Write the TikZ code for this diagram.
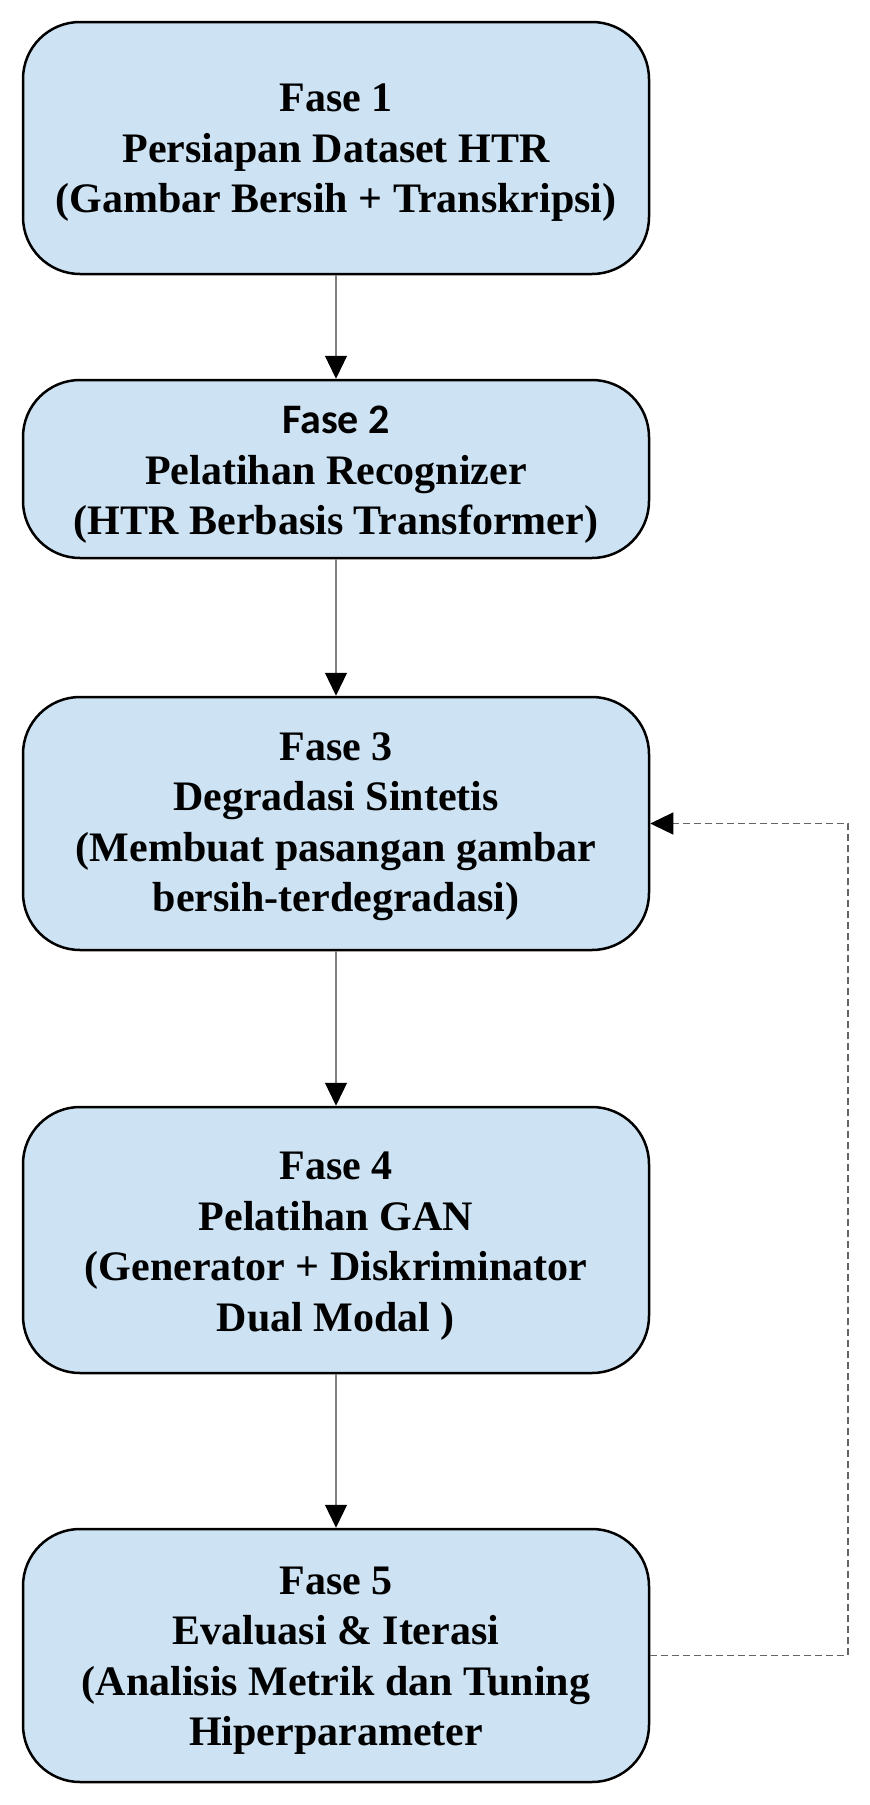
\documentclass[tikz,border=0pt]{standalone}
\usepackage{fontspec}
\setmainfont{Liberation Serif}
\newfontfamily\calibrifont{Carlito}
\usetikzlibrary{arrows.meta}
\definecolor{boxfill}{RGB}{205,226,242}
\definecolor{linegray}{RGB}{128,128,128}
\definecolor{dashgray}{RGB}{100,100,100}
\tikzset{
  phasebox/.style={draw=black, line width=2.5pt, fill=boxfill, rounded corners=57pt,
    minimum width=626pt, inner sep=0pt},
  boxtext/.style={inner sep=0pt, align=center,
    font=\fontsize{42pt}{50.5pt}\selectfont\bfseries},
  flowarrow/.style={draw=linegray, line width=1.2pt,
    -{Triangle[width=22pt,length=23pt,color=black]}},
  backarrow/.style={draw=dashgray, line width=1.3pt, dash pattern=on 7pt off 4pt,
    -{Triangle[width=22pt,length=23pt,color=black]}}
}
\begin{document}
\begin{tikzpicture}
\useasboundingbox (0,0) rectangle (870pt,-1805pt);
\node[phasebox, minimum height=252pt] (b1) at (336pt,-148pt) {};
\node[boxtext] (t1) at ([yshift=-5pt]b1.center)
  {Fase 1\\Persiapan Dataset HTR\\(Gambar Bersih + Transkripsi)};
\node[phasebox, minimum height=178pt] (b2) at (336pt,-469pt) {};
\node[boxtext] (t2) at ([yshift=-6pt]b2.center)
  {{\calibrifont Fase 2}\\Pelatihan Recognizer\\(HTR Berbasis Transformer)};
\node[phasebox, minimum height=253pt] (b3) at (336pt,-823.5pt) {};
\node[boxtext] (t3) at ([yshift=-3pt]b3.center)
  {Fase 3\\Degradasi Sintetis\\(Membuat pasangan gambar\\bersih-terdegradasi)};
\node[phasebox, minimum height=266pt] (b4) at (336pt,-1240pt) {};
\node[boxtext] (t4) at ([yshift=-6pt]b4.center)
  {Fase 4\\Pelatihan GAN\\(Generator + Diskriminator\\Dual Modal )};
\node[phasebox, minimum height=253pt] (b5) at (336pt,-1655.5pt) {};
\node[boxtext] (t5) at ([yshift=-5pt]b5.center)
  {Fase 5\\Evaluasi \& Iterasi\\(Analisis Metrik dan Tuning\\Hiperparameter};
\draw[flowarrow] (b1) -- (b2);
\draw[flowarrow] (b2) -- (b3);
\draw[flowarrow] (b3) -- (b4);
\draw[flowarrow] (b4) -- (b5);
\coordinate (c1) at (848pt,-1655.5pt);
\coordinate (c2) at (848pt,-823.5pt);
\draw[backarrow] (b5.east) -- (c1) -- (c2) -- (b3.east);
\end{tikzpicture}
\end{document}
